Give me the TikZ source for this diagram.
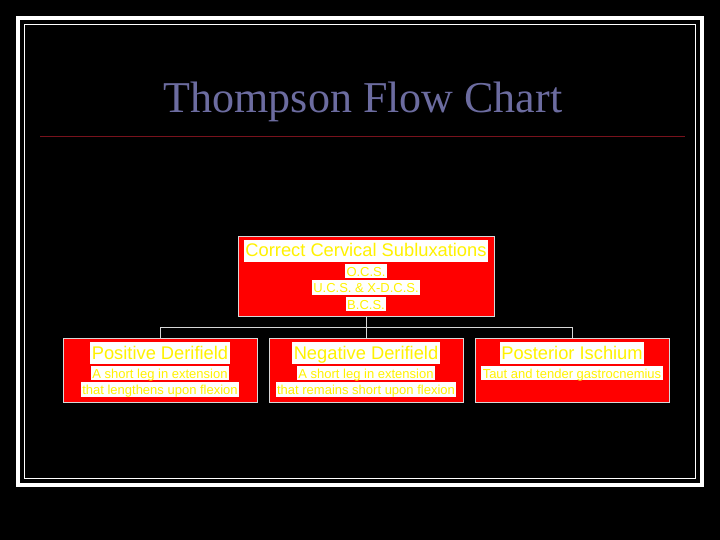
\documentclass[tikz,border=0pt]{standalone}
\usepackage{fontspec}
\setmainfont{Liberation Sans}
\newfontfamily\titlefont{Liberation Serif}
\usetikzlibrary{positioning}
\definecolor{titleblue}{RGB}{108,108,160}
\definecolor{rulered}{RGB}{120,18,28}
\definecolor{edgegray}{RGB}{215,215,215}

\begin{document}
\begin{tikzpicture}[x=1bp, y=-1bp,
    redbox/.style={draw=edgegray, fill=red, inner sep=0pt, line width=0.8bp},
    head/.style={fill=white, text=yellow, inner xsep=1.5bp, inner ysep=1bp,
      text height=16bp, text depth=4bp, font=\fontsize{18.3bp}{20bp}\selectfont},
    sub/.style={fill=white, text=yellow, inner xsep=1.5bp, inner ysep=1bp,
      text height=11.5bp, text depth=1bp, font=\fontsize{13bp}{15bp}\selectfont},
    link/.style={edgegray, line width=0.8bp}]
      \fill [black] (0,0) rectangle (720,540);
      \draw [white, line width=4bp] (18,18) rectangle (702,485);
      \draw [white, line width=1.2bp] (24.5,24.5) rectangle (695.5,478.5);
      % title
      \node [titleblue, font=\titlefont\fontsize{44bp}{48bp}\selectfont] (title) at (363,102) {Thompson Flow Chart};
      \draw [rulered, line width=1bp] (40,137) -- (685,137);
      % boxes
      \node [redbox, minimum width=256bp, minimum height=80bp] (top) at (366,276) {};
      \node [redbox, minimum width=194bp, minimum height=64bp] (pos) at (160,370) {};
      \node [redbox, minimum width=194bp, minimum height=64bp] (neg) at (366,370) {};
      \node [redbox, minimum width=194bp, minimum height=64bp] (post) at (572,370) {};
      % texts
      \node [head] (tophead) at (366,251) {Correct Cervical Subluxations};
      \node [sub, below=1.5bp of tophead] (ocs) {O.C.S.};
      \node [sub, below=1.5bp of ocs] (ucs) {U.C.S. \& X-D.C.S.};
      \node [sub, below=1.5bp of ucs] (bcs) {B.C.S.};
      \node [head] (poshead) at (160,353) {Positive Derifield};
      \node [sub, below=1.5bp of poshead] (posa) {A short leg in extension};
      \node [sub, below=1.5bp of posa] (posb) {that lengthens upon flexion};
      \node [head] (neghead) at (366,353) {Negative Derifield};
      \node [sub, below=1.5bp of neghead] (nega) {A short leg in extension};
      \node [sub, below=1.5bp of nega] (negb) {that remains short upon flexion};
      \node [head] (posthead) at (572,353) {Posterior Ischium};
      \node [sub, below=1.5bp of posthead] (posta) {Taut and tender gastrocnemius};
      % connectors
      \coordinate (bar) at (366,327);
      \draw [link] (top.south) -- (bar);
      \draw [link] (pos.north) -- (pos.north |- bar) -- (post.north |- bar) -- (post.north);
      \draw [link] (neg.north) -- (neg.north |- bar);
\end{tikzpicture}
\end{document}
